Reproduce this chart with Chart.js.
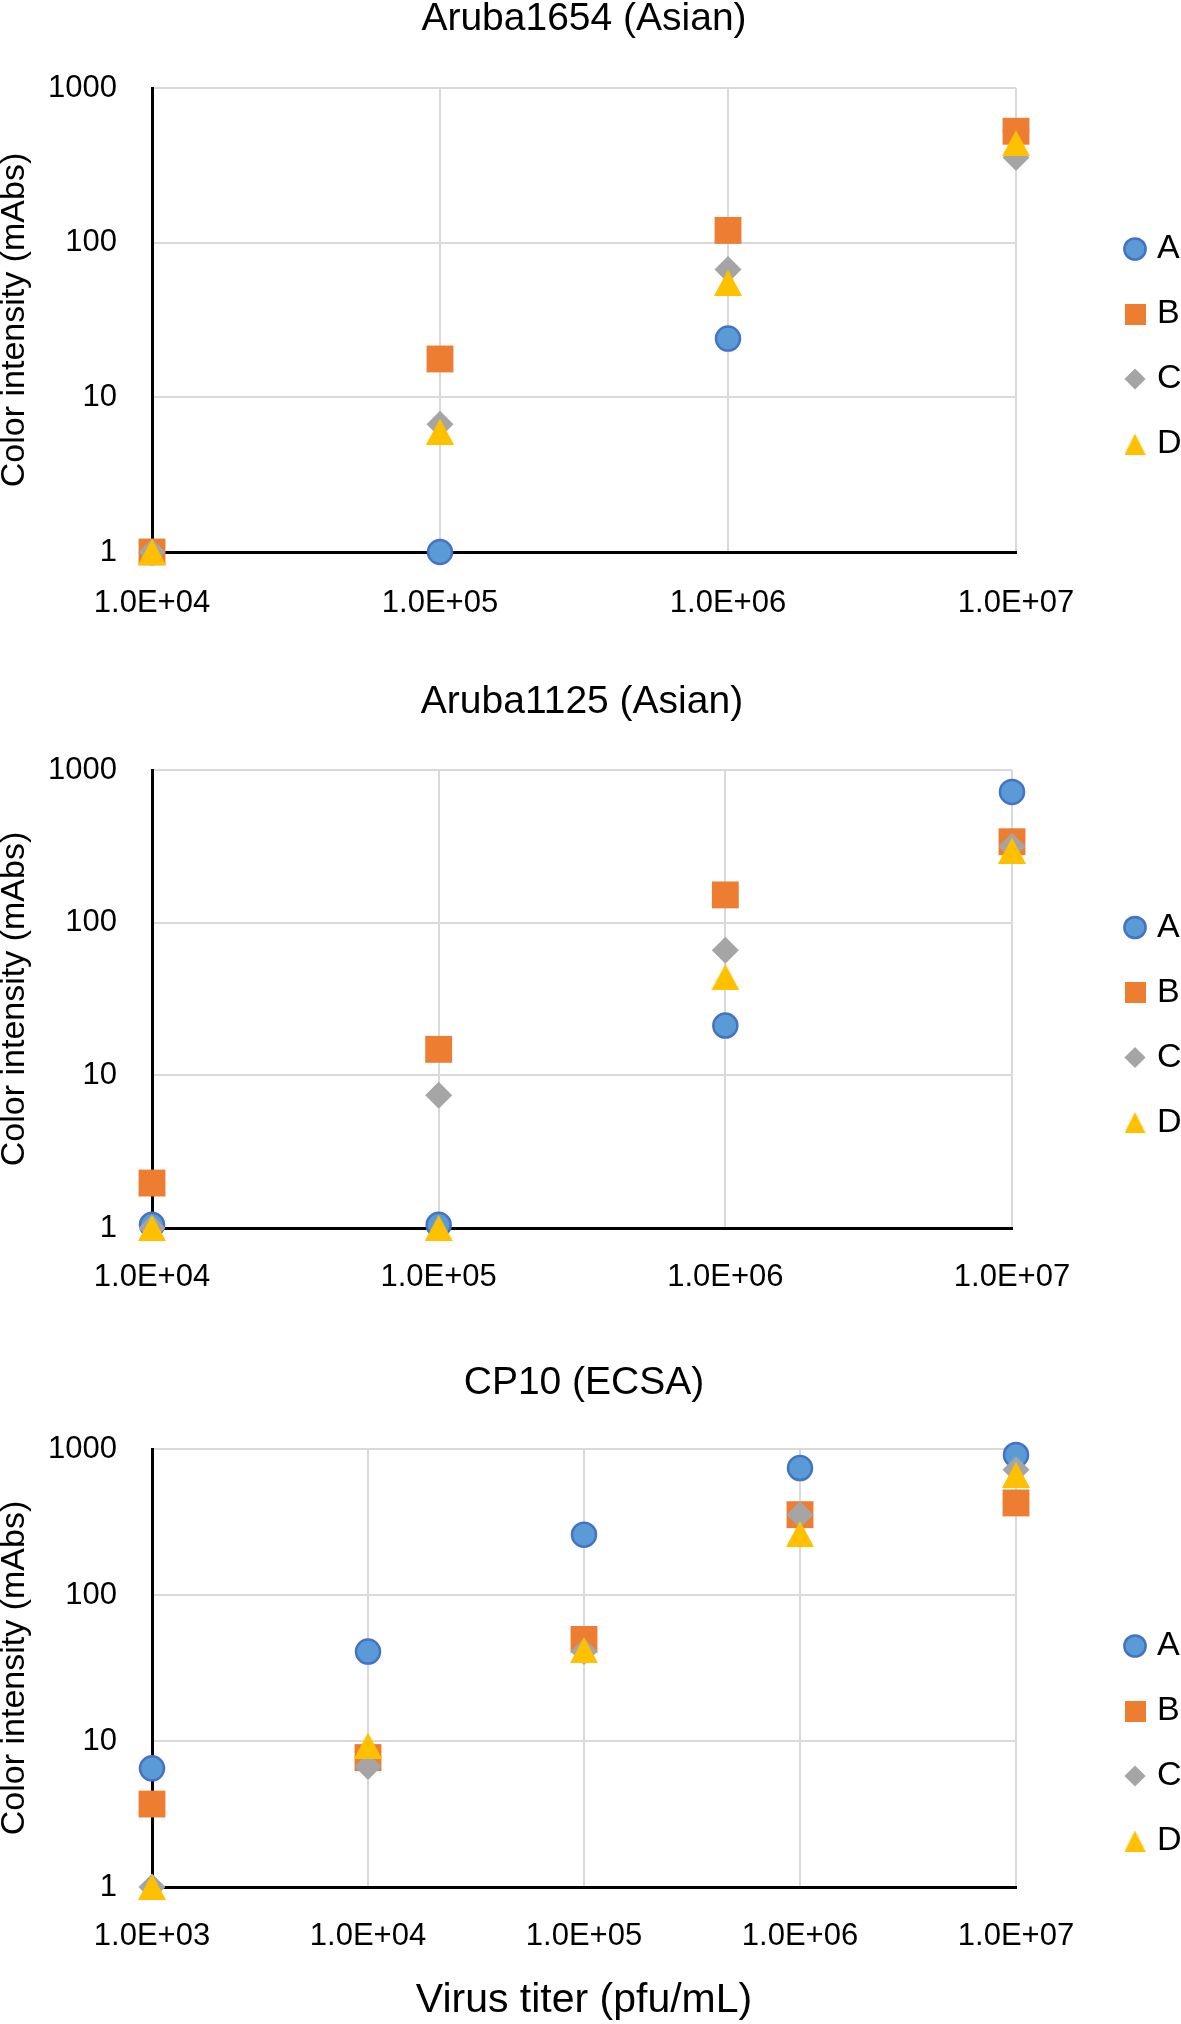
<!DOCTYPE html>
<html>
<head>
<meta charset="utf-8">
<script src="https://cdn.jsdelivr.net/npm/chart.js@4/dist/chart.umd.min.js"></script>
<style>
  html, body { margin: 0; padding: 0; background: #ffffff; overflow: hidden; width: 1181px; height: 2024px; }
  #wrap { position: relative; width: 1181px; height: 2024px; overflow: hidden; }
  canvas { position: absolute; left: 0; }
</style>
</head>
<body>
<div id="wrap">
  <canvas id="c1" width="1181" height="693" style="top:0px"></canvas>
  <canvas id="c2" width="1181" height="684" style="top:683px"></canvas>
  <canvas id="c3" width="1181" height="759" style="top:1364px"></canvas>
</div>
<script>
// ---------------- DATA ----------------
const seriesNames = ['A', 'B', 'C', 'D'];
const yTickValues = [1, 10, 100, 1000];
const yTickLabels = ['1', '10', '100', '1000'];

// Panel 1: Aruba1654 (Asian)
const title1 = 'Aruba1654 (Asian)';
const titer1 = [1e4, 1e5, 1e6, 1e7];
const titer1Labels = ['1.0E+04', '1.0E+05', '1.0E+06', '1.0E+07'];
const p1_A = [1, 1, 24, 525];
const p1_B = [1, 17.7, 120, 525];
const p1_C = [1, 6.7, 67, 356];
const p1_D = [1, 6.0, 55, 440];

// Panel 2: Aruba1125 (Asian)
const title2 = 'Aruba1125 (Asian)';
const titer2 = [1e4, 1e5, 1e6, 1e7];
const titer2Labels = ['1.0E+04', '1.0E+05', '1.0E+06', '1.0E+07'];
const p2_A = [1.05, 1.05, 21.2, 718];
const p2_B = [1.97, 14.8, 152, 339];
const p2_C = [1, 7.4, 66, 315];
const p2_D = [1, 1, 44, 296];

// Panel 3: CP10 (ECSA)
const title3 = 'CP10 (ECSA)';
const titer3 = [1e3, 1e4, 1e5, 1e6, 1e7];
const titer3Labels = ['1.0E+03', '1.0E+04', '1.0E+05', '1.0E+06', '1.0E+07'];
const p3_A = [6.5, 41, 259, 741, 910];
const p3_B = [3.7, 7.7, 49.6, 355, 427];
const p3_C = [1, 6.7, 41, 355, 720];
const p3_D = [1, 9.3, 42, 262, 665];

const yAxisTitle = 'Color intensity (mAbs)';
const xAxisTitle = 'Virus titer (pfu/mL)';

// ---------------- STYLE ----------------
const FONT = "'Liberation Sans', Arial, Helvetica, sans-serif";
Chart.defaults.font.family = FONT;
Chart.defaults.color = '#000000';

const COLORS = { A: '#5B9BD5', Aedge: '#4472C4', B: '#ED7D31', C: '#A5A5A5', D: '#FFC000' };

// marker glyphs (shape only; placement is done by Chart.js from the data)
function squareGlyph(size, color) {
  const c = document.createElement('canvas');
  c.width = size; c.height = size;
  const g = c.getContext('2d');
  g.fillStyle = color;
  g.fillRect(0, 0, size, size);
  return c;
}
function triangleGlyph(w, h, color) {
  const c = document.createElement('canvas');
  c.width = w; c.height = h;
  const g = c.getContext('2d');
  g.fillStyle = color;
  g.beginPath();
  g.moveTo(w / 2, 0);
  g.lineTo(w, h);
  g.lineTo(0, h);
  g.closePath();
  g.fill();
  return c;
}
const legendSquare = squareGlyph(21, COLORS.B);
const legendTriangle = triangleGlyph(21, 21, COLORS.D);
const plotTriangle = triangleGlyph(28, 26, COLORS.D);

const seriesStyles = [
  { pointStyle: 'circle',     radius: 12,   bg: COLORS.A, border: COLORS.Aedge, bw: 2.5, order: 3 },
  { pointStyle: 'rect',       radius: 19,   bg: COLORS.B, border: COLORS.B,     bw: 0,   order: 2 },
  { pointStyle: 'rectRot',    radius: 13.5, bg: COLORS.C, border: COLORS.C,     bw: 0,   order: 1 },
  { pointStyle: plotTriangle, radius: 14,   bg: COLORS.D, border: COLORS.D,     bw: 0,   order: 0 }
];

function buildDatasets(xs, seriesArrays) {
  return seriesArrays.map((vals, i) => {
    const s = seriesStyles[i];
    return {
      label: seriesNames[i],
      data: xs.map((x, j) => ({ x: x, y: vals[j] })),
      pointStyle: s.pointStyle,
      pointRadius: s.radius,
      pointHoverRadius: s.radius,
      backgroundColor: s.bg,
      borderColor: s.border,
      borderWidth: s.bw,
      pointBorderWidth: s.bw,
      showLine: false,
      order: s.order,
      clip: false
    };
  });
}

function makeChart(id, cfg) {
  const ctx = document.getElementById(id);
  const gridColor = '#D9D9D9';
  return new Chart(ctx, {
    type: 'scatter',
    data: { datasets: buildDatasets(cfg.xs, cfg.series) },
    options: {
      responsive: false,
      animation: false,
      devicePixelRatio: 1,
      events: [],
      layout: { padding: 0 },
      plugins: {
        title: {
          display: true,
          text: cfg.title,
          fullSize: false,
          color: '#000',
          font: { family: FONT, size: 39, weight: 'normal', lineHeight: 0.85 },
          padding: { top: 3, bottom: cfg.titleBottom }
        },
        legend: {
          display: true,
          position: 'right',
          maxWidth: 82,
          labels: {
            usePointStyle: true,
            boxWidth: 10,
            boxHeight: 15,
            padding: 31,
            color: '#000',
            font: { family: FONT, size: 34 },
            sort: (a, b) => a.datasetIndex - b.datasetIndex,
            generateLabels: (chart) => {
              const items = Chart.defaults.plugins.legend.labels.generateLabels(chart);
              items.forEach(it => {
                if (it.datasetIndex === 1) it.pointStyle = legendSquare;
                if (it.datasetIndex === 3) it.pointStyle = legendTriangle;
              });
              return items;
            }
          }
        },
        tooltip: { enabled: false }
      },
      scales: {
        x: {
          type: 'logarithmic',
          position: 'bottom',
          min: cfg.xs[0],
          max: cfg.xs[cfg.xs.length - 1],
          afterBuildTicks: (s) => { s.ticks = cfg.xs.map(v => ({ value: v })); },
          afterFit: (s) => { s.height = cfg.xAxisHeight; },
          ticks: {
            autoSkip: false, maxRotation: 0, minRotation: 0,
            padding: cfg.xTickPad, color: '#000',
            font: { family: FONT, size: 31 },
            callback: (v, i) => cfg.xLabels[i]
          },
          grid: { color: gridColor, lineWidth: 2, drawTicks: false },
          border: { display: true, color: '#000', width: 3 },
          title: cfg.xTitle ? {
            display: true, text: cfg.xTitle, color: '#000',
            font: { family: FONT, size: 41, lineHeight: 1 },
            padding: { top: 0, bottom: cfg.xTitleBottom }
          } : { display: false }
        },
        y: {
          type: 'logarithmic',
          position: 'left',
          min: 1,
          max: 1000,
          afterBuildTicks: (s) => { s.ticks = yTickValues.map(v => ({ value: v })); },
          afterFit: (s) => { s.width = 152; },
          ticks: {
            padding: 35, color: '#000',
            font: { family: FONT, size: 31 },
            callback: (v, i) => yTickLabels[i]
          },
          grid: { color: gridColor, lineWidth: 2, drawTicks: false },
          border: { display: true, color: '#000', width: 3 },
          title: {
            display: true, text: yAxisTitle, color: '#000',
            font: { family: FONT, size: 34, lineHeight: 0.85 },
            padding: { top: 0, bottom: 0 }
          }
        },
        gap: {
          type: 'linear',
          position: 'right',
          display: true,
          grid: { display: false },
          border: { display: false },
          ticks: { display: false },
          afterFit: (s) => { s.width = cfg.gapWidth; }
        }
      }
    }
  });
}

makeChart('c1', {
  title: title1, xs: titer1, xLabels: titer1Labels,
  series: [p1_A, p1_B, p1_C, p1_D],
  titleBottom: 51.85, xAxisHeight: 141, gapWidth: 83, xTickPad: 33
});
makeChart('c2', {
  title: title2, xs: titer2, xLabels: titer2Labels,
  series: [p2_A, p2_B, p2_C, p2_D],
  titleBottom: 50.85, xAxisHeight: 139, gapWidth: 87, xTickPad: 31
});
makeChart('c3', {
  title: title3, xs: titer3, xLabels: titer3Labels,
  series: [p3_A, p3_B, p3_C, p3_D],
  titleBottom: 48.85, xAxisHeight: 236, gapWidth: 83, xTickPad: 31,
  xTitle: xAxisTitle, xTitleBottom: 101.5
});
</script>
</body>
</html>
